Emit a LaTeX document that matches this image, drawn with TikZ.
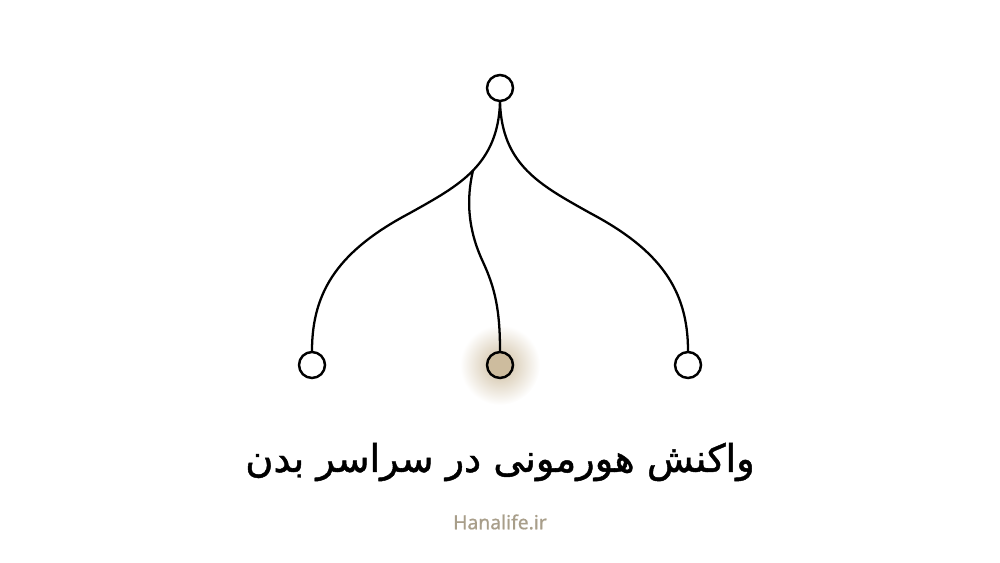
\documentclass[tikz,border=0pt]{standalone}
\usepackage{fontspec}
\setmainfont{DejaVu Sans}
\newfontfamily\arabicfont[Script=Arabic,FakeBold=1.2]{DejaVu Sans}
\newfontfamily\sitefont[FakeBold=0.8]{Noto Sans}
\TeXXeTstate=1
\usetikzlibrary{positioning,calc}
\definecolor{hormtan}{RGB}{205,188,158}
\definecolor{sitegray}{RGB}{168,158,138}

\begin{document}
\begin{tikzpicture}[
    x=0.02cm, y=-0.02cm,
    dot/.style={circle, draw=black, line width=1.4pt, fill=white, minimum size=0.52cm, inner sep=0pt},
    branch/.style={line width=1.3pt, line cap=round}
]
    \useasboundingbox (0,0) rectangle (1000,563);

    % Glow behind the active gland
    \shade[inner color=hormtan, outer color=white] (500,365) circle (0.8cm);

    % Source and targets
    \node[dot] (src) at (500,88) {};
    \node[dot] (left) at (312,365) {};
    \node[dot, fill=hormtan] (mid) at (500,365) {};
    \node[dot] (right) at (688,365) {};
    \coordinate (fork) at (473,170.5);

    % Branches
    \draw[branch] (src.south) .. controls (499,133) and (489,154) .. (fork)
        .. controls (457,187) and (435,199) .. (410,213)
        .. controls (340,250) and (312,290) .. (left.north);
    \draw[branch] (src.south) .. controls (502,165) and (540,185) .. (590,213)
        .. controls (660,250) and (688,290) .. (right.north);
    \draw[branch] (fork) .. controls (466,200) and (468,230) .. (483,262)
        .. controls (495,288) and (500,310) .. (mid.north);

    % Caption
    \node (title) at (500,462) {\fontsize{21.8pt}{26pt}\selectfont\arabicfont\beginR واکنش هورمونی در سراسر بدن\endR};
    \node[text=sitegray] (site) at (500,522) {\fontsize{11pt}{13pt}\selectfont\sitefont Hanalife.ir};
\end{tikzpicture}
\end{document}
